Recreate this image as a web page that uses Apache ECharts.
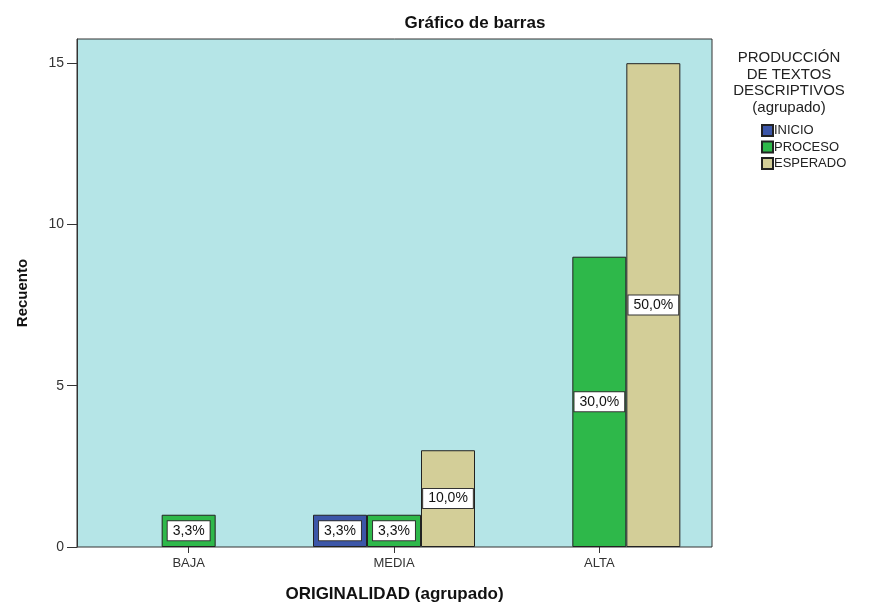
<!DOCTYPE html>
<html>
<head>
<meta charset="utf-8">
<script src="https://cdn.jsdelivr.net/npm/echarts@6/dist/echarts.min.js"></script>
<style>
  html, body { margin: 0; padding: 0; background: #fff; }
  #chart { width: 870px; height: 602px; }
</style>
</head>
<body>
<div id="chart"></div>
<script>
// categorias del eje x
const categorias = ['BAJA', 'MEDIA', 'ALTA']
// recuentos por nivel (null = no hay barra)
const inicio = [null, 1, null]
const proceso = [1, 1, 9]
const esperado = [null, 3, 15]
// porcentajes que se ven en las etiquetas
const pctInicio = [null, '3,3%', null]
const pctProceso = ['3,3%', '3,3%', '30,0%']
const pctEsperado = [null, '10,0%', '50,0%']
const yTicks = [0, 5, 10, 15]

const fuente = 'Liberation Sans, Arial, sans-serif'
const chartInstance = echarts.init(document.getElementById('chart'))

function etiqueta(pcts) {
    return {
        show: true,
        position: 'inside',
        formatter: p => pcts[p.dataIndex] || '',
        backgroundColor: '#fff',
        borderColor: '#333',
        borderWidth: 1,
        padding: [3, 5, 2, 5],
        fontSize: 14,
        fontFamily: fuente,
        color: '#111'
    }
}

function serie(nombre, datos, color, pcts) {
    return {
        name: nombre,
        type: 'bar',
        xAxisIndex: 1,
        yAxisIndex: 1,
        data: datos,
        barWidth: 54,
        barGap: '0%',
        itemStyle: { color: color, borderColor: '#222', borderWidth: 1 },
        label: etiqueta(pcts)
    }
}

const option = {
    animation: false,
    textStyle: { fontFamily: fuente },
    title: [
        {
            text: 'Gráfico de barras',
            left: 470, top: 10, textAlign: 'center',
            textStyle: { fontSize: 17, fontWeight: 'bold', color: '#111', fontFamily: fuente }
        },
        {
            text: 'PRODUCCIÓN\nDE TEXTOS\nDESCRIPTIVOS\n(agrupado)',
            left: 784, top: 45, textAlign: 'center',
            textStyle: { fontSize: 15, fontWeight: 'normal', lineHeight: 16.5, color: '#222', fontFamily: fuente }
        }
    ],
    legend: {
        orient: 'vertical',
        left: 756, top: 119,
        itemWidth: 11, itemHeight: 11, itemGap: 3.5,
        icon: 'rect',
        textStyle: { fontSize: 13, color: '#222', padding: [0, 0, 0, -4] },
        data: ['INICIO', 'PROCESO', 'ESPERADO']
    },
    grid: [
        { left: 77, right: 158, top: 39, bottom: 55, outerBoundsMode: 'none', containLabel: false,
          show: true, backgroundColor: '#b5e5e7', borderColor: '#333', borderWidth: 1 },
        { left: 86, right: 168, top: 39, bottom: 55, outerBoundsMode: 'none', containLabel: false }
    ],
    xAxis: [
        {
            gridIndex: 0, type: 'category', data: categorias, show: true,
            axisLine: { show: false }, axisTick: { show: false }, axisLabel: { show: false },
            name: 'ORIGINALIDAD (agrupado)', nameLocation: 'middle', nameGap: 39,
            nameTextStyle: { fontSize: 17, fontWeight: 'bold', color: '#111' }
        },
        {
            gridIndex: 1, type: 'category', data: categorias,
            axisLine: { show: false },
            axisTick: { show: true, alignWithLabel: true, length: 6, lineStyle: { color: '#333' } },
            axisLabel: { fontSize: 13, color: '#333', margin: 10 }
        }
    ],
    yAxis: [
        {
            gridIndex: 0, type: 'value', min: 0, max: 15.75,
            axisLine: { show: true, lineStyle: { color: '#333' } },
            axisTick: { show: true, length: 10, customValues: yTicks, lineStyle: { color: '#333' } },
            axisLabel: { fontSize: 14, color: '#333', margin: 13, customValues: yTicks },
            splitLine: { show: false },
            name: 'Recuento', nameLocation: 'middle', nameGap: 47, nameRotate: 90,
            nameTextStyle: { fontSize: 15, fontWeight: 'bold', color: '#111' }
        },
        {
            gridIndex: 1, type: 'value', min: 0, max: 15.75, show: false, splitLine: { show: false }
        }
    ],
    series: [
        serie('INICIO', inicio, '#3c56a8', pctInicio),
        serie('PROCESO', proceso, '#2eb84a', pctProceso),
        serie('ESPERADO', esperado, '#d3ce98', pctEsperado)
    ]
}
chartInstance.setOption(option)
</script>
</body>
</html>
